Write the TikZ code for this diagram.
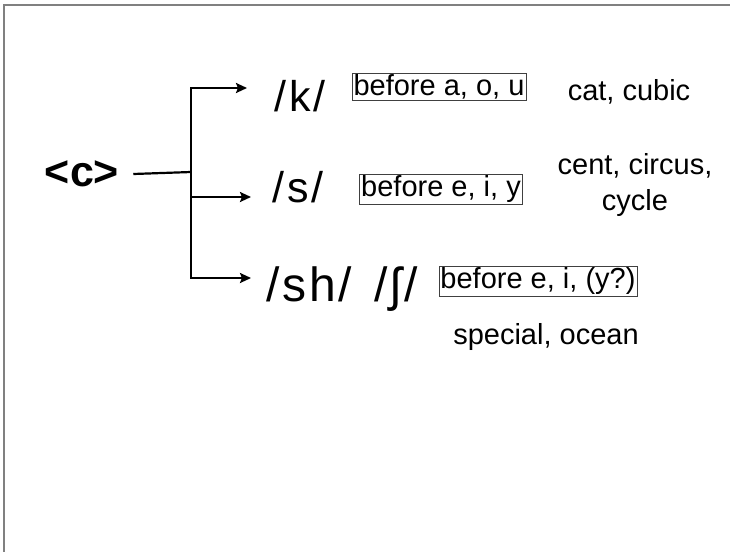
\documentclass[tikz,border=0pt]{standalone}
\usepackage{fontspec}
\setmainfont{Liberation Sans}
\usetikzlibrary{arrows.meta}
\begin{document}
\begin{tikzpicture}[x=1pt,y=-1pt,
  sound/.style={font=\fontsize{43}{46}\selectfont\addfontfeatures{LetterSpace=6}, inner sep=0pt},
  bigsound/.style={font=\fontsize{48}{52}\selectfont\addfontfeatures{LetterSpace=6}, inner sep=0pt, anchor=base},
  rule/.style={draw=black!75, line width=0.8pt, font=\fontsize{29}{32}\selectfont, inner sep=1.5pt},
  word/.style={font=\fontsize{29}{36}\selectfont, align=center, inner sep=0pt},
  fork/.style={line width=2.2pt}]

\useasboundingbox (0,0) rectangle (730,552);
\draw [gray, line width=1.5pt] (730,5) -- (4,5) -- (4,552);

\node [font=\bfseries\fontsize{43}{46}\selectfont, inner sep=0pt] (c) at (82,174) {<c>};

\coordinate (forkmid) at (191,172);
\coordinate (forks) at (191,197);
\coordinate (ktip) at (247,88);
\coordinate (stip) at (251,197);
\coordinate (shtip) at (251,278);

\draw [fork] ([xshift=14pt]c.east) -- (forkmid);
\draw [fork, -{Stealth[length=11pt,width=10pt,inset=2pt]}] (forkmid) |- (ktip);
\draw [fork, -{Stealth[length=11pt,width=10pt,inset=2pt]}] (forkmid) |- (shtip);
\draw [fork, -{Stealth[length=11pt,width=10pt,inset=2pt]}] (forks) -- (stip);

\node [sound] (k) at (300,96) {/k/};
\node [sound] (s) at (298,187) {/s/};
\node [bigsound] (sh) at (309,301) {/sh/};
\node [bigsound] (esh) at (396,301) {/ʃ/};

\node [rule] (r1) at (439,87) {before a, o, u};
\node [rule] (r2) at (441,189) {before e, i, y};
\node [rule] (r3) at (538,281) {before e, i, (y?)};

\node [word] (w1) at (629,92) {cat, cubic};
\node [word] (w2) at (635,185) {cent, circus,\\cycle};
\node [word] (w3) at (546,337) {special, ocean};
\end{tikzpicture}
\end{document}
